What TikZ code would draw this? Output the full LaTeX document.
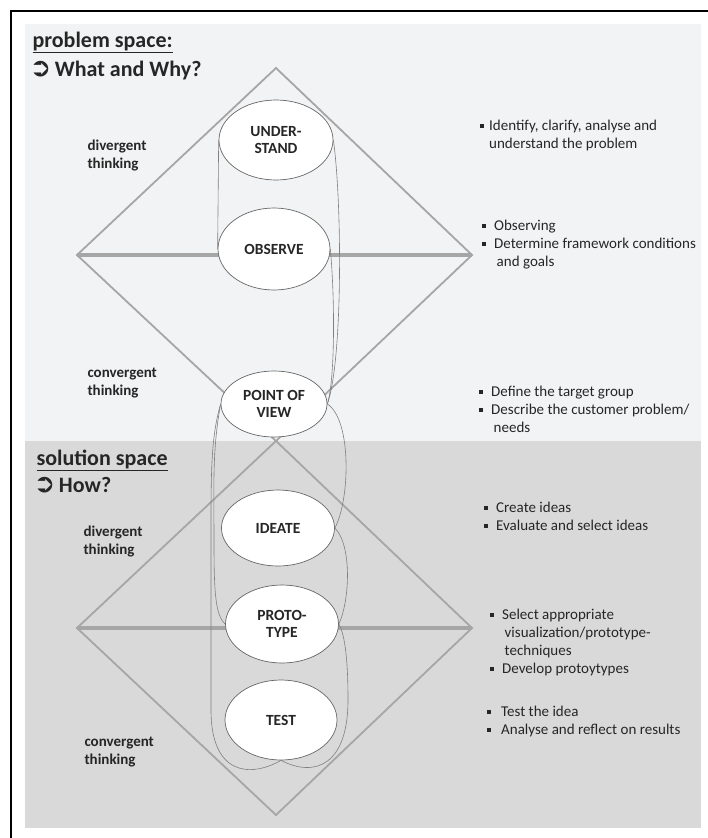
\documentclass[tikz,border=0pt]{standalone}
\usepackage{fontspec}
\setmainfont{Carlito}
\newfontfamily\symfont{DejaVu Sans}
\usetikzlibrary{shapes}

\definecolor{lightbg}{HTML}{F2F3F4}
\definecolor{darkbg}{HTML}{D9D9D9}
\definecolor{rimgray}{HTML}{A6A6A6}
\definecolor{loopgray}{HTML}{7F7F7F}
\definecolor{inkgray}{HTML}{262626}
\newcommand{\sqb}{\rule[2.5pt]{4pt}{4pt}}
\newcommand{\bpoints}[2]{\begin{tabular}[t]{@{}l@{\hspace{#1}}l@{}}#2\end{tabular}}

\begin{document}
\begin{tikzpicture}[x=1pt,y=-1pt,
  phase/.style={shape=ellipse,draw=black!60,fill=white,line width=0.7pt,inner sep=0pt,align=center,text=inkgray,font=\fontsize{15.5}{17}\selectfont\bfseries},
  thinking/.style={anchor=west,align=left,text=inkgray,font=\fontsize{15}{18}\selectfont\bfseries},
  heading/.style={anchor=base west,text=inkgray,font=\fontsize{22}{24}\selectfont\bfseries},
  note/.style={anchor=base west,inner sep=0pt,text=inkgray,font=\fontsize{15}{18}\selectfont},
  rim/.style={draw=rimgray,line width=1.8pt,line join=miter},
  axis/.style={draw=rimgray,line width=3.5pt},
  iterline/.style={draw=loopgray,line width=0.6pt}]
\useasboundingbox (0,0) rectangle (708,838);

% frame and the two spaces
\fill[lightbg] (25,24) rectangle (701,441);
\fill[darkbg] (25,441) rectangle (701,828);
\draw[black,line width=1.6pt] (11,838) -- (11,11) -- (708,11);

% diamonds
\coordinate (d1t) at (276,68);
\coordinate (d1l) at (77,255);
\coordinate (d1r) at (472,255);
\coordinate (d1b) at (276,441);
\coordinate (d2l) at (77,628);
\coordinate (d2r) at (472,628);
\coordinate (d2b) at (276,815);
\draw[rim] (d1t) -- (d1r) -- (d1b) -- (d1l) -- cycle;
\draw[rim] (d1b) -- (d2r) -- (d2b) -- (d2l) -- cycle;
\draw[axis] (d1l) -- (d1r);
\draw[axis] (d2l) -- (d2r);

% phases
\node[phase,minimum width=114pt,minimum height=80pt] (und) at (276,140) {UNDER-\\STAND};
\node[phase,minimum width=112pt,minimum height=82pt] (obs) at (274,249) {OBSERVE};
\node[phase,minimum width=106pt,minimum height=66pt] (pov) at (274,404) {POINT OF\\VIEW};
\node[phase,minimum width=113pt,minimum height=76pt] (ide) at (278,528) {IDEATE};
\node[phase,minimum width=113pt,minimum height=78pt] (pro) at (282,624) {PROTO-\\TYPE};
\node[phase,minimum width=112pt,minimum height=80pt] (tst) at (281,720) {TEST};

% iteration loops
\draw[iterline] (und.west) -- (obs.west);
\draw[iterline] (und.east) .. controls (342,200) and (343,360) .. (pov.east);
\draw[iterline] (obs.east) .. controls (335,300) and (335,380) .. (pov.east);
\draw[iterline] (pov.east) .. controls (352,420) and (350,500) .. (ide.east);
\draw[iterline] (ide.east) .. controls (352,545) and (350,600) .. (pro.east);
\draw[iterline] (tst.south) .. controls (315,778) and (348,765) .. (348,700)
  .. controls (348,660) and (345,635) .. (pro.east);
\draw[iterline] (pov.west) .. controls (212,450) and (214,490) .. (214,540)
  .. controls (214,590) and (215,615) .. (pro.west);
\draw[iterline] (pov.west) .. controls (210,440) and (211,480) .. (211,560)
  -- (211,710) .. controls (211,775) and (250,778) .. (tst.south);

% space headings
\node[heading] (ps) at (29,47) {\underline{problem space:}};
\node[heading] (pq) at (26,76) {{\symfont\fontsize{26}{26}\selectfont ➲}\,What and Why?};
\node[heading] (ss) at (33,465) {\underline{solution space}};
\node[heading] (sq) at (30,492) {{\symfont\fontsize{26}{26}\selectfont ➲}\,How?};

% thinking labels
\node[thinking] (dv1) at (84,156) {divergent\\thinking};
\node[thinking] (cv1) at (84,383) {convergent\\thinking};
\node[thinking] (dv2) at (80,542) {divergent\\thinking};
\node[thinking] (cv2) at (81,752) {convergent\\thinking};

% activities
\node[note] (a1) at (480,130) {\bpoints{5pt}{\sqb & Identify, clarify, analyse and\\ & understand the problem}};
\node[note] (a2) at (482,230) {\bpoints{8pt}{\sqb & Observing\\ \sqb & Determine framework conditions\\ & \,and goals}};
\node[note] (a3) at (479,396) {\bpoints{8pt}{\sqb & Define the target group\\ \sqb & Describe the customer problem/\\ & \,needs}};
\node[note] (a4) at (484,512) {\bpoints{8pt}{\sqb & Create ideas\\ \sqb & Evaluate and select ideas}};
\node[note] (a5) at (490,619) {\bpoints{8pt}{\sqb & Select appropriate\\ & \,visualization/prototype-\\ & \,techniques\\ \sqb & Develop protoytypes}};
\node[note] (a6) at (487,716) {\bpoints{10pt}{\sqb & Test the idea\\ \sqb & Analyse and reflect on results}};
\end{tikzpicture}
\end{document}
